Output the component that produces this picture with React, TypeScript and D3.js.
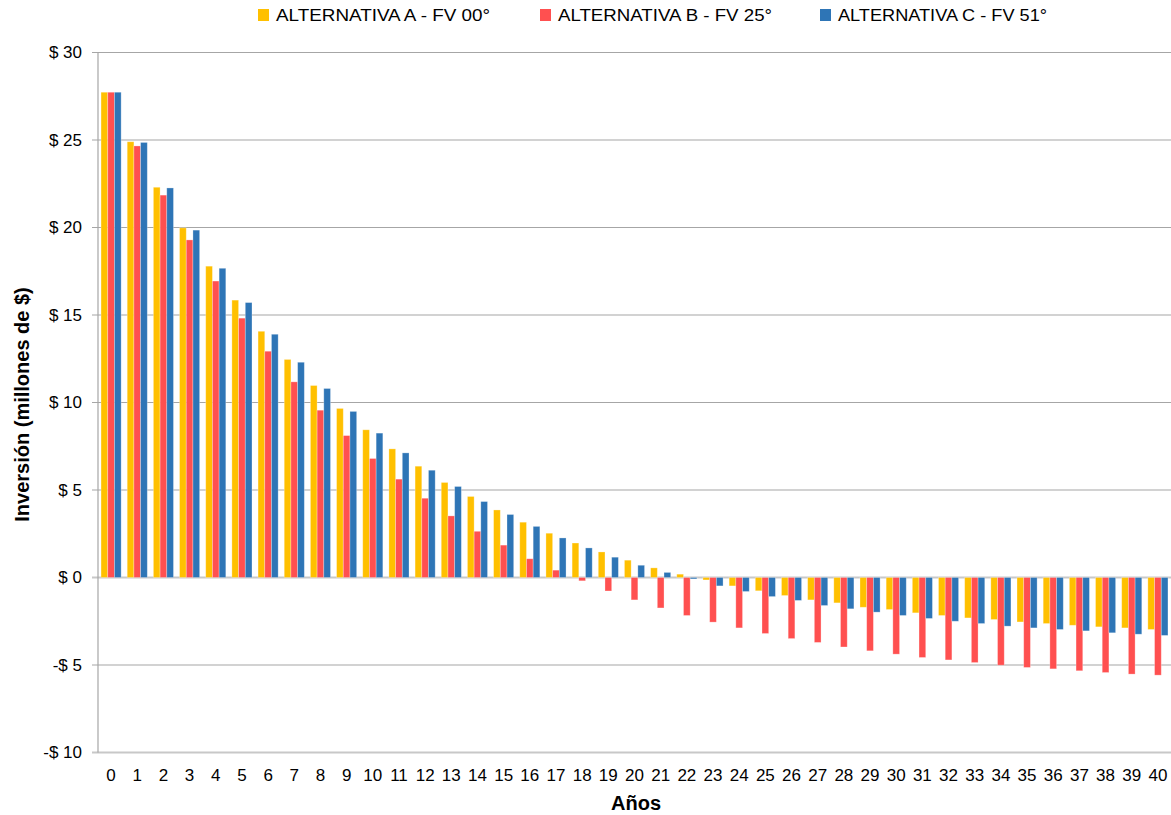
import * as d3 from "d3";

const years = d3.range(0, 41).map(String);

const seriesNames = ["ALTERNATIVA A - FV 00°", "ALTERNATIVA B - FV 25°", "ALTERNATIVA C - FV 51°"];
const seriesColors = ["#FFC000", "#FF5050", "#2E75B6"];

const altA = [
  27.73, 24.9, 22.3, 19.98, 17.79, 15.85, 14.07, 12.46, 10.97, 9.66,
  8.44, 7.35, 6.36, 5.43, 4.63, 3.86, 3.16, 2.53, 1.97, 1.46,
  0.99, 0.55, 0.19, -0.14, -0.48, -0.76, -1.03, -1.28, -1.45, -1.7,
  -1.83, -2.02, -2.17, -2.31, -2.4, -2.54, -2.63, -2.73, -2.82, -2.88, -2.97,
];
const altB = [
  27.73, 24.66, 21.85, 19.29, 16.94, 14.82, 12.93, 11.18, 9.56, 8.11,
  6.8, 5.62, 4.53, 3.52, 2.64, 1.85, 1.07, 0.42, -0.19, -0.77,
  -1.28, -1.74, -2.17, -2.55, -2.88, -3.2, -3.49, -3.71, -3.97, -4.19,
  -4.38, -4.57, -4.71, -4.86, -5.01, -5.14, -5.22, -5.33, -5.43, -5.52, -5.58,
];
const altC = [
  27.73, 24.86, 22.26, 19.85, 17.67, 15.71, 13.9, 12.3, 10.8, 9.49,
  8.25, 7.12, 6.13, 5.2, 4.34, 3.6, 2.92, 2.26, 1.69, 1.16,
  0.7, 0.29, -0.08, -0.48, -0.8, -1.09, -1.31, -1.6, -1.79, -1.98,
  -2.17, -2.34, -2.5, -2.63, -2.78, -2.88, -2.97, -3.05, -3.16, -3.24, -3.31,
];
const allSeries = [altA, altB, altC];

const yTicks = [-10, -5, 0, 5, 10, 15, 20, 25, 30];

const W = 1171;
const H = 815;
const left = 98;
const right = 1171;
const top = 52.5;
const bottom = 752.5;

export default function App() {
  const x = d3.scaleBand<string>().domain(years).range([left, right]).paddingInner(0.232).paddingOuter(0.116);
  const xs = d3.scaleBand<number>().domain([0, 1, 2]).range([0, x.bandwidth()]);
  const y = d3.scaleLinear().domain([-10, 30]).range([bottom, top]);
  const font = "Liberation Sans, Arial, sans-serif";
  const fmt = (v: number) => (v < 0 ? `-$ ${Math.abs(v)}` : `$ ${v}`);
  const legendX = [258, 540, 820];

  return (
    <svg width={W} height={H} style={{ position: "absolute", left: 0, top: 0, background: "#fff" }} fontFamily={font}>
      {/* gridlines */}
      {yTicks.map((t) => (
        <g key={t}>
          <line
            x1={left - 6}
            x2={right}
            y1={y(t)}
            y2={y(t)}
            stroke={t === 0 || t === -10 ? "#c8c8c8" : "#a6a6a6"}
            strokeWidth={t === 0 || t === -10 ? 2 : 1.2}
          />
          <text x={82} y={y(t)} dy="0.35em" textAnchor="end" fontSize={17} fill="#000">
            {fmt(t)}
          </text>
        </g>
      ))}
      <line x1={left} x2={left} y1={top} y2={bottom} stroke="#a6a6a6" strokeWidth={1.2} />

      {/* bars */}
      {allSeries.map((vals, si) => (
        <g key={si}>
          {vals.map((v, i) => {
            const bx = (x(years[i]) ?? 0) + (xs(si) ?? 0);
            const y0 = y(0);
            const y1 = y(v);
            return (
              <rect
                key={i}
                x={bx}
                y={Math.min(y0, y1)}
                width={xs.bandwidth()}
                height={Math.abs(y1 - y0)}
                fill={seriesColors[si]}
                stroke="rgba(255,255,255,0.35)"
                strokeWidth={0.8}
              />
            );
          })}
        </g>
      ))}

      {/* x tick labels */}
      {years.map((yr) => (
        <text key={yr} x={(x(yr) ?? 0) + x.bandwidth() / 2} y={775} dy="0.35em" textAnchor="middle" fontSize={17} fill="#000">
          {yr}
        </text>
      ))}

      {/* axis titles */}
      <text x={636} y={803} dy="0.35em" textAnchor="middle" fontSize={20} fontWeight="bold" fill="#000">
        Años
      </text>
      <text
        transform={`translate(22,${(top + bottom) / 2 + 2}) rotate(-90)`}
        dy="0.35em"
        textAnchor="middle"
        fontSize={20}
        fontWeight="bold"
        fill="#000"
      >
        Inversión (millones de $)
      </text>

      {/* legend */}
      {seriesNames.map((name, i) => (
        <g key={name} transform={`translate(${legendX[i]},15)`}>
          <rect x={0} y={-6} width={11} height={12} fill={seriesColors[i]} />
          <text x={18} y={0} dy="0.35em" fontSize={17} textLength={i === 2 ? 209 : 214} lengthAdjust="spacingAndGlyphs" fill="#000">
            {name}
          </text>
        </g>
      ))}
    </svg>
  );
}
